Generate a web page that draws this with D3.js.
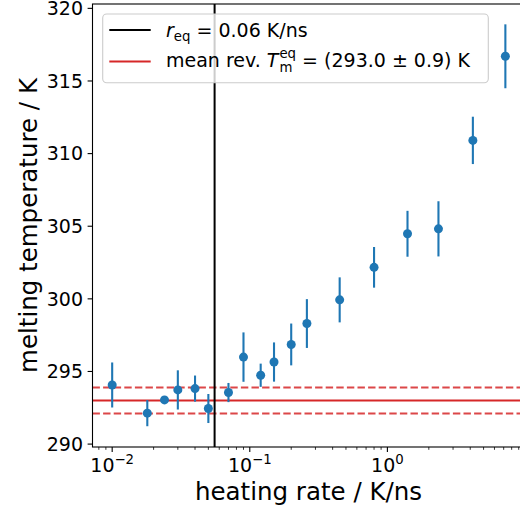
<!DOCTYPE html>
<html>
<head>
<meta charset="utf-8">
<script src="https://cdn.jsdelivr.net/npm/d3@7"></script>
<style>
  body { margin: 0; background: #fff; }
  svg { display: block; font-family: 'DejaVu Sans', sans-serif; }
  .tick-label { font-size: 19px; fill: #000; }
  .axis-label { font-size: 24.5px; fill: #000; }
  .legend-text { font-size: 19px; fill: #000; }
</style>
</head>
<body>
<svg id="chart" width="520" height="510"></svg>
<script>
// heating rates (K/ns) and melting temperatures (K) with errors
const rates = [0.01, 0.018, 0.024, 0.03, 0.04, 0.05, 0.07, 0.09, 0.12, 0.15,
  0.2, 0.26, 0.45, 0.8, 1.4, 2.35, 4.18, 7.2];
const temps = [294.07, 292.13, 293.04, 293.73, 293.82, 292.45, 293.55, 295.99,
  294.74, 295.65, 296.86, 298.3, 299.93, 302.17, 304.48, 304.82, 310.91, 316.7];
const errors = [1.55, 0.9, 0.15, 1.35, 0.9, 1.0, 0.66, 1.7, 0.8, 1.35, 1.44,
  1.68, 1.55, 1.4, 1.58, 1.9, 1.63, 2.2];
const rEq = 0.0555;
const meanT = 293.0;
const meanErr = 0.9;
const yTicks = [290, 295, 300, 305, 310, 315, 320];
const xTicks = [0.01, 0.1, 1];
const xTickExp = ['−2', '−1', '0'];

const margin = { left: 92.5, top: 4 };
const width = 432.5;
const height = 443;

/**
 * Log X scale, right spine falls just off the canvas
 */
function generateXScale() {
  return d3.scaleLog().domain([Math.pow(10, -2.143), 10]).range([0, width]);
}

/**
 * Linear Y scale for temperatures
 */
function generateYScale() {
  return d3.scaleLinear().domain([289.8, 320.3]).range([height, 0]);
}

/**
 * Draws the axes, ticks and the frame
 */
function addAxes(g, xScale, yScale) {
  const minor = [];
  for (let e = -3; e <= 1; e++) {
    for (let m = 2; m <= 9; m++) {
      const v = m * Math.pow(10, e);
      if (v > xScale.domain()[0] && v < xScale.domain()[1]) minor.push(v);
    }
  }
  // minor x ticks
  g.append('g')
    .selectAll('line')
    .data(minor)
    .enter()
    .append('line')
    .attr('x1', (d) => xScale(d))
    .attr('x2', (d) => xScale(d))
    .attr('y1', height)
    .attr('y2', height + 2.8)
    .attr('stroke', '#000')
    .attr('stroke-width', 0.8);

  // major x ticks
  const xg = g.append('g')
    .selectAll('g')
    .data(xTicks)
    .enter()
    .append('g')
    .attr('transform', (d) => 'translate(' + xScale(d) + ',' + height + ')');
  xg.append('line')
    .attr('y2', 4.9)
    .attr('stroke', '#000')
    .attr('stroke-width', 1.1);
  const xt = xg.append('text')
    .attr('class', 'tick-label')
    .attr('y', 24.5)
    .attr('text-anchor', 'middle');
  xt.append('tspan').text('10');
  xt.append('tspan')
    .attr('dy', -8)
    .attr('font-size', 13.3)
    .text((d, i) => xTickExp[i]);

  // y ticks
  const yg = g.append('g')
    .selectAll('g')
    .data(yTicks)
    .enter()
    .append('g')
    .attr('transform', (d) => 'translate(0,' + yScale(d) + ')');
  yg.append('line')
    .attr('x2', -4.9)
    .attr('stroke', '#000')
    .attr('stroke-width', 1.1);
  yg.append('text')
    .attr('class', 'tick-label')
    .attr('x', -9.5)
    .attr('dy', '0.35em')
    .attr('text-anchor', 'end')
    .text((d) => d);

  // frame
  g.append('rect')
    .attr('width', width)
    .attr('height', height)
    .attr('fill', 'none')
    .attr('stroke', '#000')
    .attr('stroke-width', 1.1);
}

/**
 * Adds the X and Y axis labels
 */
function addLabels(svg) {
  svg.append('text')
    .attr('class', 'axis-label')
    .attr('x', margin.left + 216)
    .attr('y', 500)
    .attr('text-anchor', 'middle')
    .text('heating rate / K/ns');
  svg.append('text')
    .attr('class', 'axis-label')
    .attr('text-anchor', 'middle')
    .attr('transform', 'translate(37,' + (margin.top + height / 2) + ') rotate(-90)')
    .text('melting temperature / K');
}

/**
 * Draws the legend box with both entries
 */
function addLegend(svg) {
  const lg = svg.append('g');
  lg.append('rect')
    .attr('x', 102.7)
    .attr('y', 14)
    .attr('width', 385.6)
    .attr('height', 68.7)
    .attr('rx', 4)
    .attr('fill', '#fff')
    .attr('fill-opacity', 0.8)
    .attr('stroke', '#cccccc')
    .attr('stroke-width', 1.1);

  lg.append('line')
    .attr('x1', 109.3).attr('x2', 150.7)
    .attr('y1', 30).attr('y2', 30)
    .attr('stroke', '#000')
    .attr('stroke-width', 2);
  lg.append('line')
    .attr('x1', 109.3).attr('x2', 150.7)
    .attr('y1', 61.5).attr('y2', 61.5)
    .attr('stroke', '#d62728')
    .attr('stroke-width', 2);

  const t1 = lg.append('text')
    .attr('class', 'legend-text')
    .attr('x', 166)
    .attr('y', 37);
  t1.append('tspan').attr('font-style', 'italic').text('r');
  t1.append('tspan').attr('font-size', 13.3).attr('dy', 4).text('eq');
  t1.append('tspan').attr('dy', -4).text(' = 0.06 K/ns');

  const t2 = lg.append('text')
    .attr('class', 'legend-text')
    .attr('x', 166)
    .attr('y', 67);
  t2.append('tspan').text('mean rev. ');
  t2.append('tspan').attr('font-style', 'italic').text('T');
  t2.append('tspan').attr('font-size', 13.3).attr('dx', 1).attr('dy', 5).text('m');
  t2.append('tspan').attr('font-size', 13.3).attr('dx', -13).attr('dy', -14).text('eq');
  t2.append('tspan').attr('dy', 9).text(' = (293.0 ± 0.9) K');
}

const svg = d3.select('#chart');
const xScale = generateXScale();
const yScale = generateYScale();

const g = svg.append('g')
  .attr('transform', 'translate(' + margin.left + ',' + margin.top + ')');

const plot = g.append('g');

// mean temperature with its uncertainty band
plot.append('line')
  .attr('x1', 0).attr('x2', width)
  .attr('y1', yScale(meanT)).attr('y2', yScale(meanT))
  .attr('stroke', '#d62728')
  .attr('stroke-width', 2);
plot.selectAll('line.band')
  .data([meanT - meanErr, meanT + meanErr])
  .enter()
  .append('line')
  .attr('class', 'band')
  .attr('x1', 0).attr('x2', width)
  .attr('y1', (d) => yScale(d)).attr('y2', (d) => yScale(d))
  .attr('stroke', '#d62728')
  .attr('stroke-opacity', 0.85)
  .attr('stroke-width', 2)
  .attr('stroke-dasharray', '7.4,3.2');

// equilibrium heating rate
plot.append('line')
  .attr('x1', xScale(rEq)).attr('x2', xScale(rEq))
  .attr('y1', 0).attr('y2', height)
  .attr('stroke', '#000')
  .attr('stroke-width', 2);

// error bars
const points = rates.map((r, i) => ({ rate: r, temp: temps[i], err: errors[i] }));
plot.append('g')
  .selectAll('line')
  .data(points)
  .enter()
  .append('line')
  .attr('x1', (d) => xScale(d.rate))
  .attr('x2', (d) => xScale(d.rate))
  .attr('y1', (d) => yScale(d.temp - d.err))
  .attr('y2', (d) => yScale(d.temp + d.err))
  .attr('stroke', '#1f77b4')
  .attr('stroke-width', 2.1);
plot.append('g')
  .selectAll('circle')
  .data(points)
  .enter()
  .append('circle')
  .attr('cx', (d) => xScale(d.rate))
  .attr('cy', (d) => yScale(d.temp))
  .attr('r', 4.5)
  .attr('fill', '#1f77b4');

addAxes(g, xScale, yScale);
addLabels(svg);
addLegend(svg);
</script>
</body>
</html>
